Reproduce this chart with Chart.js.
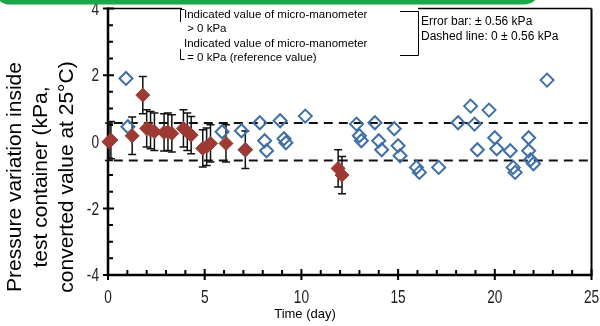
<!DOCTYPE html>
<html>
<head>
<meta charset="utf-8">
<script src="https://cdn.jsdelivr.net/npm/chart.js@4"></script>
<style>
  html, body { margin: 0; padding: 0; background: #fff; }
  #wrap { width: 600px; height: 326px; }
</style>
</head>
<body>
<div id="wrap"><canvas id="pressure"></canvas></div>
<script>
// reference value points (micro-manometer = 0 kPa), with error bars
const redDays = [0.05, 0.15, 1.25, 1.8, 2.0, 2.2, 2.4, 2.9, 3.1, 3.3, 3.9, 4.1, 4.3, 4.9, 5.1, 5.3, 6.1, 7.1, 11.9, 12.1]
const redKpa = [0.0, 0.05, 0.18, 1.4, 0.4, 0.35, 0.3, 0.28, 0.3, 0.25, 0.4, 0.3, 0.2, -0.2, -0.15, -0.05, -0.05, -0.24, -0.8, -1.0]

// micro-manometer > 0 kPa points
const blueDays = [0.93, 1.03, 5.9, 6.9, 7.1, 7.85, 8.1, 8.2, 8.9, 9.1, 9.2, 10.2, 12.85, 13.0, 13.1, 13.8, 14.0, 14.15,
    14.8, 15.0, 15.1, 15.95, 16.1, 17.1, 18.1, 18.75, 18.95, 19.1, 19.7, 20.0, 20.1, 20.8, 20.95, 21.05, 21.75, 21.75,
    21.85, 22.0, 22.7]
const blueKpa = [1.9, 0.45, 0.3, 0.33, -0.24, 0.57, 0.03, -0.27, 0.63, 0.09, -0.03, 0.77, 0.53, 0.18, 0.03, 0.57, 0.03, -0.24,
    0.39, -0.12, -0.42, -0.77, -0.92, -0.77, 0.57, 1.07, 0.53, -0.24, 0.95, 0.12, -0.21, -0.27, -0.77, -0.92, 0.12, -0.27,
    -0.54, -0.66, 1.85]

const errorBar = 0.56
const dashLevels = [0.56, -0.56]
const xTicks = [0, 5, 10, 15, 20, 25]
const yTicks = [4, 2, 0, -2, -4]

const toPoints = (xs, ys) => xs.map((x, i) => ({ x: x, y: ys[i] }))

const decor = {
    id: 'decor',
    beforeDatasetsDraw(chart) {
        const ctx = chart.ctx
        const xs = chart.scales.x
        const ys = chart.scales.y
        const a = chart.chartArea
        ctx.save()

        // frame: top and right
        ctx.strokeStyle = '#000'
        ctx.lineWidth = 1.5
        ctx.beginPath()
        ctx.moveTo(a.left, a.top); ctx.lineTo(a.right, a.top)
        ctx.stroke()
        ctx.lineWidth = 2
        ctx.beginPath()
        ctx.moveTo(a.right, a.top); ctx.lineTo(a.right, a.bottom)
        ctx.stroke()

        // axes
        ctx.lineWidth = 2.5
        ctx.beginPath()
        ctx.moveTo(a.left, a.top - 1); ctx.lineTo(a.left, a.bottom + 1)
        ctx.moveTo(a.left - 1, a.bottom); ctx.lineTo(a.right + 1, a.bottom)
        ctx.stroke()

        // ticks
        ctx.lineWidth = 2
        ctx.beginPath()
        for (let v = -4; v <= 4; v += 0.5) {
            const py = ys.getPixelForValue(v)
            if (v % 2 === 0) {
                ctx.moveTo(a.left - 5, py); ctx.lineTo(a.left + 6, py)
            } else {
                ctx.moveTo(a.left, py); ctx.lineTo(a.left + 5, py)
            }
        }
        for (let d = 0; d <= 25; d++) {
            const px = xs.getPixelForValue(d)
            if (d % 5 === 0) {
                ctx.moveTo(px, a.bottom + 5); ctx.lineTo(px, a.bottom - 6)
            } else {
                ctx.moveTo(px, a.bottom); ctx.lineTo(px, a.bottom - 5)
            }
        }
        ctx.stroke()

        // error bars
        ctx.strokeStyle = '#111'
        ctx.lineWidth = 1.5
        for (let i = 0; i < redDays.length; i++) {
            const px = xs.getPixelForValue(redDays[i])
            const top = ys.getPixelForValue(redKpa[i] + errorBar)
            const bot = ys.getPixelForValue(redKpa[i] - errorBar)
            ctx.beginPath()
            ctx.moveTo(px, top); ctx.lineTo(px, bot)
            ctx.moveTo(px - 4, top); ctx.lineTo(px + 4, top)
            ctx.moveTo(px - 4, bot); ctx.lineTo(px + 4, bot)
            ctx.stroke()
        }
        ctx.restore()
    },
    afterDraw(chart) {
        const ctx = chart.ctx
        const xs = chart.scales.x
        const ys = chart.scales.y
        const a = chart.chartArea
        ctx.save()

        // tick labels (narrow face)
        ctx.fillStyle = '#222'
        ctx.font = '19px "Liberation Sans", Arial, sans-serif'
        ctx.textBaseline = 'middle'
        ctx.textAlign = 'center'
        xTicks.forEach(t => {
            ctx.save()
            ctx.translate(xs.getPixelForValue(t), a.bottom + 23)
            ctx.scale(0.72, 1)
            ctx.fillText(String(t), 0, 0)
            ctx.restore()
        })
        ctx.textAlign = 'right'
        yTicks.forEach(t => {
            ctx.save()
            ctx.translate(a.left - 9, ys.getPixelForValue(t) + 1)
            ctx.scale(0.72, 1)
            ctx.fillText(String(t), 0, 0)
            ctx.restore()
        })

        // axis titles
        ctx.fillStyle = '#000'
        ctx.textAlign = 'center'
        ctx.font = '13px "Liberation Sans", Arial, sans-serif'
        ctx.fillText('Time (day)', 305, 314)
        ctx.save()
        ctx.rotate(-Math.PI / 2)
        ctx.font = '21px "Liberation Sans", Arial, sans-serif'
        const titleLines = ['Pressure variation inside', 'test container (kPa,', 'converted value at 25°C)']
        titleLines.forEach((s, i) => ctx.fillText(s, -177, 15 + i * 26))
        ctx.restore()

        // legend box (over top frame)
        ctx.fillStyle = '#fff'
        ctx.fillRect(182, a.top - 3, 236, 58)
        ctx.strokeStyle = '#000'
        ctx.lineWidth = 1
        ctx.beginPath()
        ctx.moveTo(184.5, 9.5); ctx.lineTo(180.5, 9.5); ctx.lineTo(180.5, 22)
        ctx.moveTo(180.5, 49); ctx.lineTo(180.5, 59.5); ctx.lineTo(184.5, 59.5)
        ctx.moveTo(400, 11.5); ctx.lineTo(418.5, 11.5); ctx.lineTo(418.5, 55.5); ctx.lineTo(400, 55.5)
        ctx.stroke()
        ctx.fillStyle = '#000'
        ctx.textAlign = 'left'
        ctx.font = '11.5px "Liberation Sans", Arial, sans-serif'
        ctx.fillText('Indicated value of micro-manometer', 184, 15)
        ctx.fillText(' > 0 kPa', 184, 29)
        ctx.fillText('Indicated value of micro-manometer', 184, 44)
        ctx.fillText(' = 0 kPa (reference value)', 184, 58)
        ctx.font = '12px "Liberation Sans", Arial, sans-serif'
        ctx.fillText('Error bar: \u00b1 0.56 kPa', 421, 22)
        ctx.fillText('Dashed line: 0 \u00b1 0.56 kPa', 421, 37)

        // green callout frame edge at top
        ctx.strokeStyle = '#1aa64a'
        ctx.lineWidth = 5
        ctx.beginPath()
        ctx.roundRect(-4, -40, 542, 42, 14)
        ctx.stroke()

        ctx.restore()
    }
}

const ctx = document.getElementById('pressure')
new Chart(ctx, {
    type: 'scatter',
    data: {
        datasets: [
            {
                label: 'Indicated value of micro-manometer = 0 kPa (reference value)',
                data: toPoints(redDays, redKpa),
                pointStyle: 'rectRot',
                pointRadius: 7,
                pointBackgroundColor: '#9c3a33',
                pointBorderColor: '#9c3a33',
                pointBorderWidth: 1,
                clip: false,
                order: 1
            },
            {
                label: 'Indicated value of micro-manometer > 0 kPa',
                data: toPoints(blueDays, blueKpa),
                pointStyle: 'rectRot',
                pointRadius: 6.5,
                pointBackgroundColor: 'rgba(255,255,255,0)',
                pointBorderColor: '#3f6fa8',
                pointBorderWidth: 2,
                clip: false,
                order: 2
            },
            {
                label: 'upper',
                data: [{ x: 0.3, y: dashLevels[0] }, { x: 25, y: dashLevels[0] }],
                showLine: true,
                borderColor: '#111',
                borderWidth: 2,
                borderDash: [9, 6],
                pointRadius: 0,
                order: 3
            },
            {
                label: 'lower',
                data: [{ x: 0.3, y: dashLevels[1] }, { x: 25, y: dashLevels[1] }],
                showLine: true,
                borderColor: '#111',
                borderWidth: 2,
                borderDash: [9, 6],
                pointRadius: 0,
                order: 3
            }
        ]
    },
    options: {
        responsive: true,
        maintainAspectRatio: false,
        animation: false,
        layout: { padding: { top: 6, right: 8, left: 0, bottom: 0 } },
        plugins: {
            legend: { display: false },
            tooltip: { enabled: false }
        },
        scales: {
            x: {
                type: 'linear',
                min: 0,
                max: 25,
                grid: { display: false },
                border: { display: false },
                ticks: { display: false, stepSize: 5 },
                afterFit: scale => { scale.height = 51 }
            },
            y: {
                min: -4,
                max: 4,
                grid: { display: false },
                border: { display: false },
                ticks: { display: false, stepSize: 2 },
                afterFit: scale => { scale.width = 108 }
            }
        }
    },
    plugins: [decor]
});
</script>
</body>
</html>
